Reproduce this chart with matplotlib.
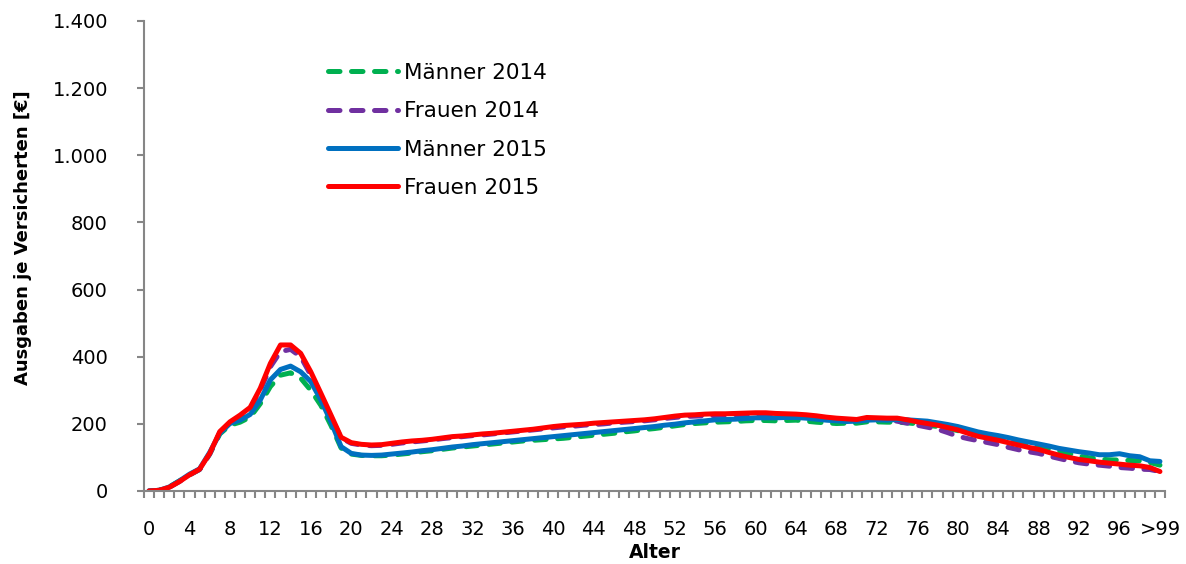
import matplotlib
matplotlib.use("Agg")
import matplotlib.pyplot as plt
from matplotlib.ticker import FixedLocator, FuncFormatter

plt.rcParams['font.family'] = ['DejaVu Sans']

ages = list(range(101))
age_labels = [str(a) for a in range(0, 100, 4)] + [">99"]
label_positions = list(range(0, 101, 4))

maenner_2014 = [0, 2, 12, 30, 48, 64, 110, 170, 196, 205, 220, 260, 311, 345, 352, 336, 300, 255, 195, 128,
                110, 106, 105, 105, 107, 110, 113, 117, 120, 124, 128, 131, 134, 137, 140, 143, 146, 149, 151, 153,
                155, 157, 160, 163, 166, 169, 172, 176, 179, 183, 186, 190, 194, 198, 201, 203, 205, 206, 207, 209,
                210, 210, 209, 210, 211, 208, 205, 203, 201, 202, 202, 206, 206, 205, 205, 203, 200, 196, 192, 186,
                180, 172, 166, 160, 155, 149, 143, 137, 132, 126, 120, 112, 104, 99, 95, 93, 92, 91, 90, 85, 77]
frauen_2014 = [0, 2, 11, 28, 48, 64, 110, 175, 203, 222, 245, 300, 370, 415, 422, 400, 345, 283, 220, 158,
               142, 137, 135, 136, 139, 143, 146, 149, 152, 156, 159, 162, 165, 167, 170, 173, 176, 179, 182, 185,
               188, 191, 193, 196, 198, 200, 203, 205, 207, 209, 212, 216, 219, 222, 223, 224, 225, 226, 227, 228,
               228, 228, 227, 226, 225, 224, 220, 216, 214, 212, 210, 216, 215, 213, 208, 202, 196, 190, 184, 174,
               163, 156, 150, 144, 138, 130, 123, 117, 112, 104, 97, 90, 84, 80, 77, 74, 70, 68, 65, 64, 58]
maenner_2015 = [0, 2, 12, 30, 50, 66, 115, 172, 201, 211, 228, 271, 331, 362, 372, 355, 326, 271, 206, 132,
                112, 107, 106, 107, 110, 113, 116, 120, 123, 127, 131, 134, 138, 141, 144, 147, 150, 153, 156, 159,
                162, 165, 168, 171, 174, 177, 180, 183, 186, 189, 192, 196, 199, 203, 206, 209, 212, 213, 214, 216,
                218, 218, 218, 219, 219, 217, 214, 211, 209, 207, 208, 211, 212, 211, 213, 212, 210, 208, 203, 198,
                192, 184, 176, 170, 165, 159, 152, 146, 140, 134, 127, 122, 117, 113, 108, 108, 111, 105, 102, 90, 88]
frauen_2015 = [0, 2, 11, 28, 48, 65, 112, 177, 206, 226, 249, 306, 380, 435, 435, 410, 355, 291, 226, 160,
               144, 139, 137, 138, 142, 146, 149, 151, 154, 158, 162, 164, 167, 170, 172, 175, 178, 181, 184, 188,
               192, 195, 197, 199, 202, 204, 206, 208, 210, 212, 215, 219, 223, 226, 227, 229, 230, 230, 231, 232,
               233, 233, 231, 230, 229, 227, 224, 220, 217, 215, 213, 219, 218, 217, 217, 212, 206, 201, 196, 189,
               182, 172, 163, 157, 151, 144, 137, 130, 124, 115, 107, 100, 94, 90, 86, 83, 80, 77, 75, 70, 58]

fig = plt.figure(figsize=(11.86, 5.64), dpi=100)
ax = fig.add_axes([144/1186, 1-491/564, 1021/1186, 470/564])

lw = 3.6
ax.plot(ages, maenner_2014, color='#00B050', lw=lw, dashes=(2.3, 2.3), dash_capstyle='round',
        label='Männer 2014')
ax.plot(ages, frauen_2014, color='#7030A0', lw=lw, dashes=(2.3, 2.3), dash_capstyle='round',
        label='Frauen 2014')
ax.plot(ages, maenner_2015, color='#0070C0', lw=lw, solid_capstyle='round', label='Männer 2015')
ax.plot(ages, frauen_2015, color='#FF0000', lw=lw, solid_capstyle='round', label='Frauen 2015')

ax.set_xlim(-0.5, 100.5)
ax.set_ylim(0, 1400)

gray = '#868686'
for s in ['top', 'right']:
    ax.spines[s].set_visible(False)
for s in ['left', 'bottom']:
    ax.spines[s].set_color(gray)
    ax.spines[s].set_linewidth(1.5)

ax.set_yticks(range(0, 1401, 200))
ax.yaxis.set_major_formatter(FuncFormatter(lambda v, p: f"{int(v):,}".replace(",", ".")))
ax.tick_params(axis='y', direction='out', length=5, width=1.5, color=gray, pad=21, labelsize=14)

ax.xaxis.set_major_locator(FixedLocator(label_positions))
ax.xaxis.set_minor_locator(FixedLocator([i - 0.5 for i in range(102)]))
ax.tick_params(axis='x', which='minor', direction='out', length=5, width=1.5, color=gray)
ax.tick_params(axis='x', which='major', direction='out', length=0, pad=21, labelsize=14)
ax.set_xticklabels(age_labels)

fig.text(655/1186, 1-552/564, 'Alter', ha='center', va='center', fontsize=13.5, fontweight='bold')
fig.text(23/1186, 1-238/564, 'Ausgaben je Versicherten [€]', ha='center', va='center',
         rotation=90, fontsize=13, fontweight='bold')

leg = ax.legend(loc='upper left', bbox_to_anchor=(328/1186, 1-63/564), bbox_transform=fig.transFigure,
                frameon=False, fontsize=15.5, handlelength=3.25, handletextpad=0.3, labelspacing=0.85,
                borderpad=0, borderaxespad=0)

fig.savefig('out.png', dpi=100)
